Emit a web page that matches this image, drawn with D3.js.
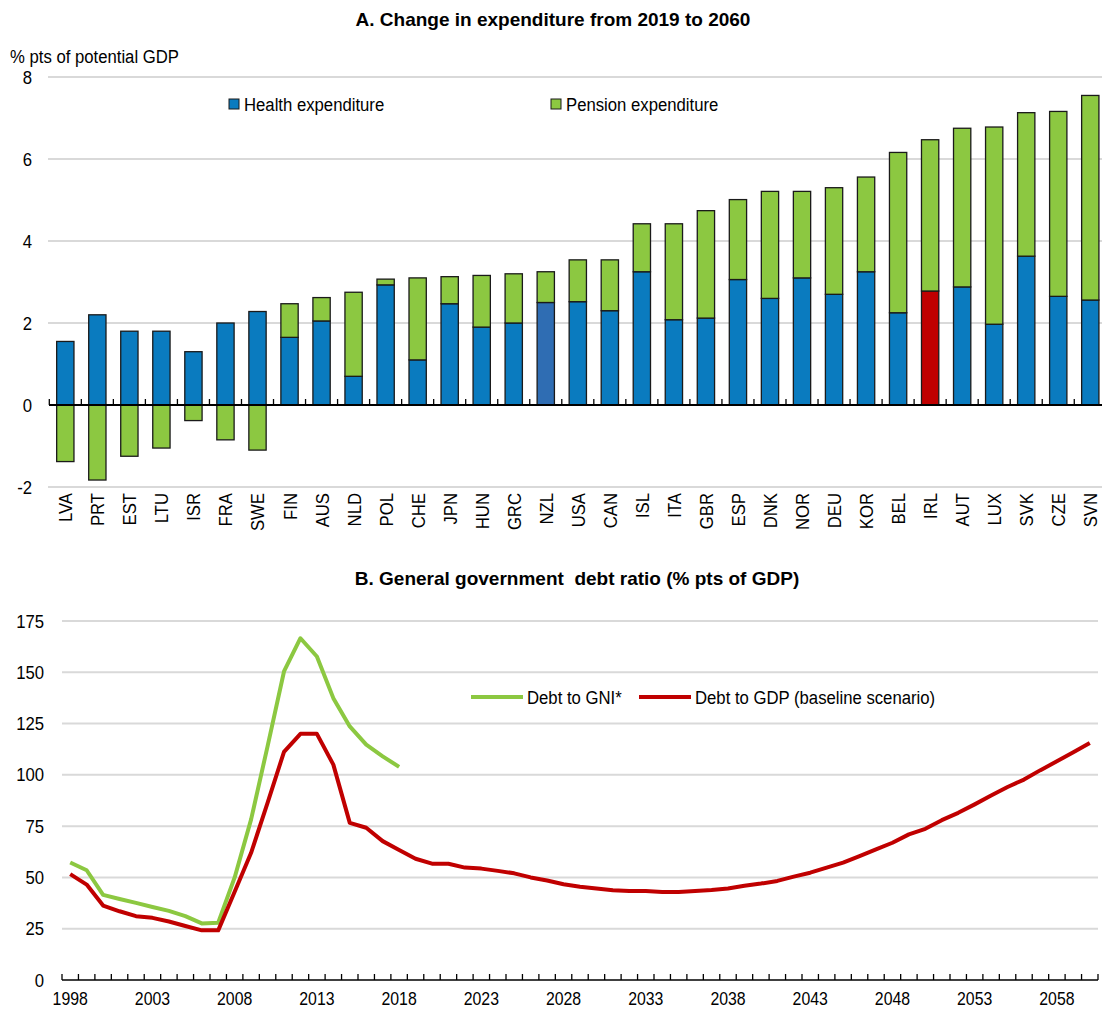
<!DOCTYPE html>
<html>
<head>
<meta charset="utf-8">
<script src="https://cdn.jsdelivr.net/npm/d3@7/dist/d3.min.js"></script>
<style>
  body { margin: 0; background: #fff; }
  svg text { font-family: "Liberation Sans Narrow", "Arial Narrow", "Liberation Sans", sans-serif; fill: #000; }
</style>
</head>
<body>
<div id="chart"></div>
<script>
// panel A data
const CATEGORIES = ["LVA", "PRT", "EST", "LTU", "ISR", "FRA", "SWE", "FIN", "AUS", "NLD", "POL",
  "CHE", "JPN", "HUN", "GRC", "NZL", "USA", "CAN", "ISL", "ITA", "GBR", "ESP", "DNK", "NOR",
  "DEU", "KOR", "BEL", "IRL", "AUT", "LUX", "SVK", "CZE", "SVN"];
const HEALTH = [1.55, 2.2, 1.8, 1.8, 1.3, 2.0, 2.28, 1.65, 2.05, 0.7, 2.93,
  1.1, 2.47, 1.9, 2.0, 2.5, 2.52, 2.3, 3.25, 2.08, 2.12, 3.06, 2.6, 3.1,
  2.7, 3.25, 2.25, 2.78, 2.88, 1.97, 3.63, 2.65, 2.56];
const PENSION = [-1.38, -1.83, -1.25, -1.05, -0.38, -0.85, -1.1, 0.82, 0.57, 2.05, 0.14,
  2.0, 0.66, 1.26, 1.2, 0.75, 1.02, 1.24, 1.17, 2.34, 2.62, 1.95, 2.61, 2.11,
  2.6, 2.31, 3.91, 3.69, 3.87, 4.81, 3.5, 4.51, 4.99];
const TOP_TICKS = [-2, 0, 2, 4, 6, 8];

// panel B data
const YEARS = d3.range(1998, 2061);
const GNI_YEARS = d3.range(1998, 2019);
const DEBT_GNI = [57.3, 53.5, 41.5, 39.5, 37.6, 35.6, 33.7, 31.1, 27.6, 27.9,
  50, 78.3, 113.9, 150.4, 166.6, 157.7, 137.4, 123.6, 114.7, 109, 103.9];
const DEBT_GDP = [51.6, 46.5, 36.3, 33.5, 31.1, 30.3, 28.5, 26.3, 24.2, 24.2,
  43, 62, 86.4, 111.2, 120, 120, 105, 76.6, 74.2, 67.7,
  63.4, 59.1, 56.7, 56.7, 54.8, 54.3, 53.2, 52, 50, 48.5,
  46.7, 45.5, 44.6, 43.8, 43.4, 43.4, 42.9, 42.9, 43.4, 43.9,
  44.6, 45.9, 47, 48.3, 50.4, 52.3, 54.8, 57.2, 60.4, 63.7,
  66.9, 71, 73.7, 77.9, 81.5, 85.6, 89.9, 94.1, 97.7, 102.3,
  106.6, 111, 115.5];
const BOTTOM_TICKS = [0, 25, 50, 75, 100, 125, 150, 175];
const YEAR_LABELS = [1998, 2003, 2008, 2013, 2018, 2023, 2028, 2033, 2038, 2043, 2048, 2053, 2058];

const WIDTH = 1102;
const HEIGHT = 1009;
const BLUE = "#0a7bbf";
const GREEN = "#8cc841";
const RED = "#c00000";
const GRID = "#d9d9d9";
const FONT_SIZE = 19;
const LINE_WIDTH = 4;
const NARROW = "scale(0.88,1)"; // no narrow font installed, squeeze the regular one

const svg = d3.select("#chart").append("svg")
  .attr("width", WIDTH)
  .attr("height", HEIGHT);

svg.append("rect").attr("width", WIDTH).attr("height", HEIGHT).attr("fill", "#fff");

drawPanelA();
drawPanelB();

function drawPanelA() {
  const g = svg.append("g").attr("id", "panel-a");
  const x = d3.scaleBand().domain(CATEGORIES).range([49.3, 1106.3]).paddingInner(0.46).paddingOuter(0.23);
  const y = d3.scaleLinear().domain([-2, 8]).range([487, 77]);
  const step = x.step();

  g.append("text")
    .attr("x", 553).attr("y", 26)
    .attr("text-anchor", "middle")
    .attr("font-weight", "bold")
    .attr("font-size", FONT_SIZE)
    .text("A. Change in expenditure from 2019 to 2060");

  g.append("text")
    .attr("transform", `translate(10,63) ${NARROW}`)
    .attr("font-size", FONT_SIZE)
    .text("% pts of potential GDP");

  // grid
  g.append("g").selectAll("line").data(TOP_TICKS.filter(d => d !== 0)).join("line")
    .attr("x1", 48).attr("x2", WIDTH)
    .attr("y1", d => y(d)).attr("y2", d => y(d))
    .attr("stroke", GRID).attr("stroke-width", 2);

  const yAxis = g.append("g")
    .attr("transform", "translate(32,0)")
    .call(d3.axisLeft(y).tickValues(TOP_TICKS).tickSize(0).tickPadding(0).tickFormat(d => String(d)));
  yAxis.select(".domain").remove();
  yAxis.selectAll("text").attr("font-size", FONT_SIZE).attr("font-family", null).attr("transform", NARROW);

  const rows = CATEGORIES.map((c, i) => ({ c, health: HEALTH[i], pension: PENSION[i] }));
  const healthColor = d => d.c === "IRL" ? RED : d.c === "NZL" ? "#2f6db3" : BLUE;

  g.append("g").selectAll("rect").data(rows).join("rect")
    .attr("x", d => x(d.c))
    .attr("width", x.bandwidth())
    .attr("y", d => y(d.health))
    .attr("height", d => y(0) - y(d.health))
    .attr("fill", healthColor)
    .attr("stroke", "#1a1a1a").attr("stroke-width", 1.3);

  g.append("g").selectAll("rect").data(rows).join("rect")
    .attr("x", d => x(d.c))
    .attr("width", x.bandwidth())
    .attr("y", d => d.pension >= 0 ? y(d.health + d.pension) : y(0))
    .attr("height", d => Math.abs(y(0) - y(d.pension)))
    .attr("fill", GREEN)
    .attr("stroke", "#1a1a1a").attr("stroke-width", 1.3);

  // zero axis + ticks at band boundaries
  g.append("line")
    .attr("x1", 49).attr("x2", WIDTH)
    .attr("y1", y(0)).attr("y2", y(0))
    .attr("stroke", "#000").attr("stroke-width", 2);
  const bounds = CATEGORIES.map(c => x(c) - (step - x.bandwidth()) / 2);
  g.append("g").selectAll("line").data(bounds).join("line")
    .attr("x1", d => d).attr("x2", d => d)
    .attr("y1", y(0)).attr("y2", y(0) - 6)
    .attr("stroke", "#000").attr("stroke-width", 1.3);

  g.append("g").selectAll("text").data(CATEGORIES).join("text")
    .attr("transform", d => `translate(${x(d) + x.bandwidth() / 2 + 7},493) rotate(-90) ${NARROW}`)
    .attr("text-anchor", "end")
    .attr("font-size", FONT_SIZE)
    .text(d => d);

  // legend
  const legend = [
    { label: "Health expenditure", color: BLUE, x: 229 },
    { label: "Pension expenditure", color: GREEN, x: 551 },
  ];
  const lg = g.append("g").selectAll("g").data(legend).join("g")
    .attr("transform", d => `translate(${d.x},104)`);
  lg.append("rect")
    .attr("x", 0).attr("y", -5).attr("width", 10).attr("height", 10)
    .attr("fill", d => d.color).attr("stroke", "#1a1a1a").attr("stroke-width", 1);
  lg.append("text")
    .attr("transform", `translate(15,7) ${NARROW}`)
    .attr("font-size", FONT_SIZE)
    .text(d => d.label);
}

function drawPanelB() {
  const g = svg.append("g").attr("id", "panel-b");
  const x = d3.scaleBand().domain(YEARS).range([62, 1098]);
  const y = d3.scaleLinear().domain([0, 175]).range([980, 621]);
  const cx = yr => x(yr) + x.bandwidth() / 2;

  g.append("text")
    .attr("x", 577).attr("y", 585)
    .attr("text-anchor", "middle")
    .attr("font-weight", "bold")
    .attr("font-size", FONT_SIZE)
    .style("white-space", "pre")
    .text("B. General government  debt ratio (% pts of GDP)");

  g.append("g").selectAll("line").data(BOTTOM_TICKS.filter(d => d !== 0)).join("line")
    .attr("x1", 62).attr("x2", 1098)
    .attr("y1", d => y(d)).attr("y2", d => y(d))
    .attr("stroke", GRID).attr("stroke-width", 2);

  const yAxis = g.append("g")
    .attr("transform", "translate(44,0)")
    .call(d3.axisLeft(y).tickValues(BOTTOM_TICKS).tickSize(0).tickPadding(0));
  yAxis.select(".domain").remove();
  yAxis.selectAll("text").attr("font-size", FONT_SIZE).attr("font-family", null).attr("transform", NARROW);

  g.append("line")
    .attr("x1", 62).attr("x2", 1098)
    .attr("y1", y(0)).attr("y2", y(0))
    .attr("stroke", "#000").attr("stroke-width", 1.5);
  const bounds = YEARS.map(yr => x(yr)).concat([1098]);
  g.append("g").selectAll("line").data(bounds).join("line")
    .attr("x1", d => d).attr("x2", d => d)
    .attr("y1", y(0)).attr("y2", y(0) - 6)
    .attr("stroke", "#000").attr("stroke-width", 1.3);

  g.append("g").selectAll("text").data(YEAR_LABELS).join("text")
    .attr("transform", d => `translate(${cx(d)},1004.5) ${NARROW}`)
    .attr("text-anchor", "middle")
    .attr("font-size", 18)
    .text(d => d);

  const line = d3.line().x(d => cx(d[0])).y(d => y(d[1]));
  g.append("path")
    .datum(GNI_YEARS.map((yr, i) => [yr, DEBT_GNI[i]]))
    .attr("d", line)
    .attr("fill", "none").attr("stroke", GREEN).attr("stroke-width", LINE_WIDTH)
    .attr("stroke-linejoin", "round");
  g.append("path")
    .datum(YEARS.map((yr, i) => [yr, DEBT_GDP[i]]))
    .attr("d", line)
    .attr("fill", "none").attr("stroke", RED).attr("stroke-width", LINE_WIDTH)
    .attr("stroke-linejoin", "round");

  const legend = [
    { label: "Debt to GNI*", color: GREEN, x: 471 },
    { label: "Debt to GDP (baseline scenario)", color: RED, x: 639 },
  ];
  const lg = g.append("g").selectAll("g").data(legend).join("g")
    .attr("transform", d => `translate(${d.x},697)`);
  lg.append("line")
    .attr("x1", 0).attr("x2", 52)
    .attr("stroke", d => d.color).attr("stroke-width", LINE_WIDTH);
  lg.append("text")
    .attr("transform", `translate(56,7) ${NARROW}`)
    .attr("font-size", FONT_SIZE)
    .text(d => d.label);
}
</script>
</body>
</html>
